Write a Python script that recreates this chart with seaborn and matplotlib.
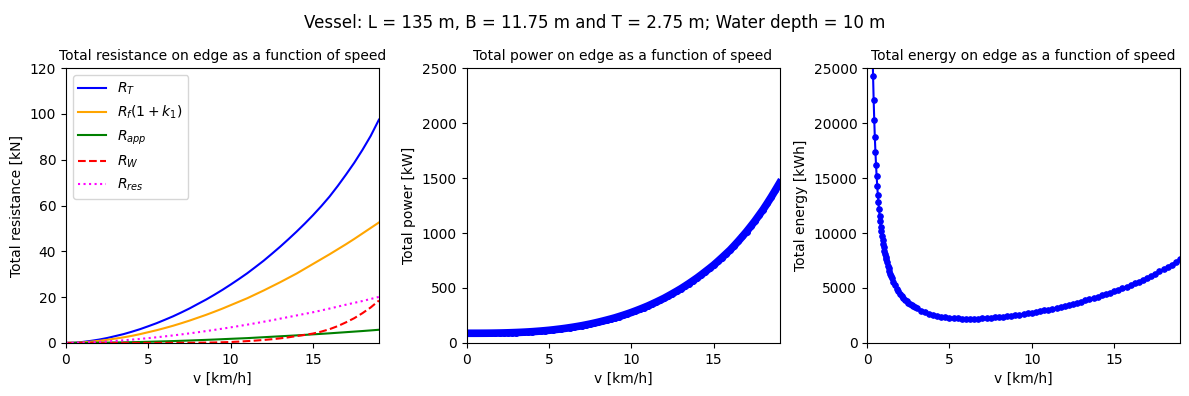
import numpy as np
import pandas as pd
import seaborn as sns
import matplotlib.pyplot as plt

# speeds [km/h] used for the resistance curves
v_res = [0, 0.5, 1, 1.5, 2, 2.5, 3, 3.5, 4, 4.5, 5, 5.5, 6, 6.5, 7, 7.5, 8, 8.5, 9, 9.5,
         10, 10.5, 11, 11.5, 12, 12.5, 13, 13.5, 14, 14.5, 15, 15.5, 16, 16.5, 17, 17.5,
         18, 18.5, 19]

# resistance components [kN]
r_total = [0, 0.12, 0.42, 0.89, 1.45, 2.15, 3.0, 3.86, 4.9, 6.02, 7.3, 8.62, 10.1, 11.62,
           13.3, 15.06, 17.0, 18.91, 21.0, 23.18, 25.5, 27.91, 30.4, 33.13, 35.9, 38.92,
           42.0, 45.25, 48.6, 52.12, 55.8, 59.72, 63.9, 68.55, 73.5, 78.65, 84.3, 90.4, 97.5]
r_friction = [0, 0.07, 0.25, 0.55, 0.9, 1.35, 1.9, 2.45, 3.1, 3.85, 4.7, 5.55, 6.5, 7.5,
              8.6, 9.75, 11.0, 12.25, 13.6, 15.0, 16.5, 18.0, 19.5, 21.2, 22.9, 24.7,
              26.5, 28.4, 30.3, 32.4, 34.5, 36.6, 38.7, 40.9, 43.1, 45.4, 47.8, 50.2, 52.6]
r_app = [0, 0.01, 0.03, 0.06, 0.1, 0.15, 0.2, 0.26, 0.33, 0.41, 0.5, 0.6, 0.7, 0.81,
         0.93, 1.06, 1.2, 1.34, 1.48, 1.64, 1.8, 1.95, 2.1, 2.3, 2.5, 2.7, 2.9, 3.1,
         3.3, 3.52, 3.75, 3.97, 4.2, 4.45, 4.7, 4.95, 5.2, 5.47, 5.75]
r_wave = [0, 0, 0, 0, 0, 0, 0, 0, 0, 0, 0, 0, 0.02, 0.03, 0.05, 0.07, 0.1, 0.15, 0.2,
          0.3, 0.4, 0.58, 0.8, 1.03, 1.3, 1.62, 2.0, 2.45, 3.0, 3.5, 4.1, 4.95, 6.0,
          7.35, 9.0, 10.8, 13.0, 15.5, 18.5]
r_residual = [0, 0.04, 0.14, 0.28, 0.45, 0.65, 0.89, 1.15, 1.45, 1.76, 2.1, 2.47, 2.86,
              3.28, 3.72, 4.18, 4.66, 5.17, 5.69, 6.24, 6.8, 7.38, 7.98, 8.6, 9.25, 9.9,
              10.6, 11.3, 12.0, 12.7, 13.4, 14.2, 15.0, 15.85, 16.7, 17.5, 18.3, 19.2, 20.1]

# power [kW] against speed [km/h]
v_power = [0, 0.25, 0.5, 0.75, 1, 1.25, 1.5, 1.75, 2, 2.25, 2.5, 2.75, 3, 3.25, 3.5, 3.75,
           4, 4.25, 4.5, 4.75, 5, 5.25, 5.5, 5.75, 6, 6.25, 6.5, 6.75, 7, 7.25, 7.5, 7.75,
           8, 8.25, 8.5, 8.75, 9, 9.25, 9.5, 9.75, 10, 10.25, 10.5, 10.75, 11, 11.25, 11.5,
           11.75, 12, 12.25, 12.5, 12.75, 13, 13.25, 13.5, 13.75, 14, 14.25, 14.5, 14.75,
           15, 15.25, 15.5, 15.75, 16, 16.25, 16.5, 16.75, 17, 17.25, 17.5, 17.75, 18,
           18.25, 18.5, 18.75, 19]
power = [88, 88, 88, 88.1, 88.3, 88.5, 88.9, 89.5, 90.2, 91, 92, 93.3, 94.7, 96.3, 98.1,
         100.2, 102.5, 105.3, 108.2, 111.5, 115, 119, 123.5, 128, 133, 138.5, 144.3, 150.5,
         157, 164.5, 172, 180.3, 189, 198.2, 207.8, 217.7, 228, 239.6, 251.5, 264, 277, 291,
         305.5, 320.5, 336, 353, 370.5, 388.5, 407, 427.5, 448.5, 470, 492, 516, 540.5, 566,
         592, 620, 649, 678, 708, 741, 775, 810, 845, 885, 926, 969, 1013, 1060, 1108, 1160,
         1212, 1269, 1328, 1390, 1453]

# energy [kWh] against speed [km/h]
v_energy = [0.324, 0.36, 0.396, 0.432, 0.468, 0.504, 0.54, 0.576, 0.612, 0.648, 0.684, 0.72,
            0.756, 0.792, 0.828, 0.864, 0.9, 0.936, 0.972, 1.008, 1.044, 1.08, 1.116, 1.152,
            1.188, 1.25, 1.3, 1.35, 1.4, 1.45, 1.5, 1.6, 1.7, 1.8, 1.9, 2.0, 2.1, 2.2, 2.3,
            2.4, 2.5, 2.6, 2.7, 2.8, 2.9, 3.0, 3.25, 3.5, 3.75, 4, 4.25, 4.5, 4.75, 5, 5.25,
            5.5, 5.75, 6, 6.25, 6.5, 6.75, 7, 7.25, 7.5, 7.75, 8, 8.25, 8.5, 8.75, 9, 9.25,
            9.5, 9.75, 10, 10.25, 10.5, 10.75, 11, 11.25, 11.5, 11.75, 12, 12.25, 12.5,
            12.75, 13, 13.25, 13.5, 13.75, 14, 14.25, 14.5, 14.75, 15, 15.25, 15.5, 15.75,
            16, 16.25, 16.5, 16.75, 17, 17.25, 17.5, 17.75, 18, 18.25, 18.5, 18.75, 19]
energy = [27000, 24300, 22100, 20250, 18700, 17350, 16200, 15200, 14300, 13500, 12800, 12150,
          11550, 11050, 10550, 10150, 9700, 9350, 9000, 8700, 8400, 8100, 7840, 7595,
          7365, 7040, 6775, 6520, 6300, 6090, 5890, 5540, 5225, 4950, 4705, 4485, 4285,
          4105, 3940, 3795, 3660, 3540, 3425, 3325, 3225, 3140, 2945, 2785, 2655, 2545,
          2465, 2390, 2335, 2285, 2255, 2230, 2215, 2205, 2205, 2205, 2215, 2230, 2255,
          2280, 2315, 2350, 2390, 2430, 2475, 2520, 2575, 2630, 2690, 2755, 2820, 2890,
          2965, 3035, 3120, 3205, 3285, 3370, 3470, 3565, 3665, 3760, 3870, 3980, 4090,
          4205, 4325, 4450, 4570, 4690, 4830, 4970, 5115, 5250, 5415, 5580, 5750, 5925,
          6110, 6295, 6500, 6695, 6910, 7135, 7370, 7600]

fig, axes = plt.subplots(1, 3, figsize=(11.89, 3.96), dpi=100)
fig.subplots_adjust(left=0.0555, right=0.9925, bottom=0.134, top=0.828, wspace=0.28)
fig.suptitle('Vessel: L = 135 m, B = 11.75 m and T = 2.75 m; Water depth = 10 m',
             fontsize=12, y=0.965)

# resistance
ax = axes[0]
sns.lineplot(x=v_res, y=r_total, ax=ax, color='blue', label=r'$R_T$')
sns.lineplot(x=v_res, y=r_friction, ax=ax, color='orange', label=r'$R_f(1+k_1)$')
sns.lineplot(x=v_res, y=r_app, ax=ax, color='green', label=r'$R_{app}$')
sns.lineplot(x=v_res, y=r_wave, ax=ax, color='red', linestyle='--', label=r'$R_W$')
sns.lineplot(x=v_res, y=r_residual, ax=ax, color='magenta', linestyle=':', label=r'$R_{res}$')
ax.set_xlim(0, 19)
ax.set_ylim(0, 120)
ax.set_xlabel('v [km/h]')
ax.set_ylabel('Total resistance [kN]')
ax.set_title('Total resistance on edge as a function of speed', fontsize=10)
ax.legend(loc='upper left')

# power
ax = axes[1]
sns.lineplot(x=v_power, y=power, ax=ax, color='blue', marker='.', markersize=8.5,
             linewidth=5.5, markeredgecolor='blue')
ax.set_xlim(0, 19)
ax.set_ylim(0, 2500)
ax.set_xlabel('v [km/h]')
ax.set_ylabel('Total power [kW]')
ax.set_title('Total power on edge as a function of speed', fontsize=10)

# energy
ax = axes[2]
sns.lineplot(x=v_energy, y=energy, ax=ax, color='blue', marker='.', markersize=8,
             linewidth=1.5, markeredgecolor='blue')
ax.set_xlim(0, 19)
ax.set_ylim(0, 25000)
ax.set_xlabel('v [km/h]')
ax.set_ylabel('Total energy [kWh]')
ax.set_title('Total energy on edge as a function of speed', fontsize=10)

plt.savefig('out.png', dpi=100)
